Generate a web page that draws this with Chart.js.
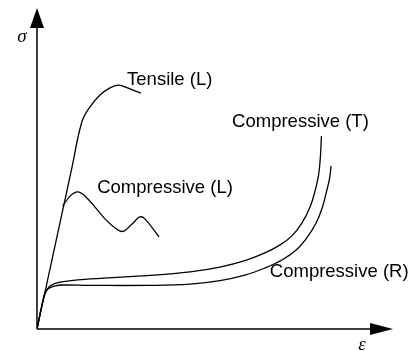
<!DOCTYPE html>
<html>
<head>
<meta charset="utf-8">
<script src="https://cdn.jsdelivr.net/npm/chart.js@4"></script>
<style>
html,body{margin:0;padding:0;background:#fff;}
#wrap{width:411px;height:351px;}
</style>
</head>
<body>
<div id="wrap"><canvas id="c" width="411" height="351"></canvas></div>
<script>
// Schematic stress-strain curves (arbitrary units, 0-100 on each axis)
const tensileL_x = [0, 9.8, 12.6, 14.9, 17.7, 20.5, 22.8, 24.7, 29.2];
const tensileL_y = [0, 50.2, 64.5, 69.2, 72.9, 75.1, 76.0, 75.4, 73.5];

const compL_x = [7.2, 9.3, 11.5, 14.3, 19.1, 22.8, 24.4, 26.7, 28.9, 30.3, 34.3];
const compL_y = [38.3, 41.4, 42.7, 40.5, 34.3, 30.8, 30.5, 32.7, 34.9, 34.3, 28.7];

const compT_x = [0, 1.4, 2.25, 3.65, 6.46, 14.9, 31.7, 43.0, 51.4, 58.4, 64.0, 68.3, 71.6, 74.4, 76.7, 78.1, 79.1, 79.6, 79.9];
const compT_y = [0, 7.5, 11.2, 13.4, 14.6, 15.6, 16.7, 17.8, 19.3, 21.3, 23.7, 26.2, 29.0, 33.0, 38.0, 43.0, 48.0, 53.6, 60.1];

const compR_x = [0, 1.4, 2.25, 3.1, 5.1, 7.3, 14.9, 31.7, 43.0, 51.4, 58.4, 64.0, 68.8, 72.8, 75.8, 78.4, 80.1, 81.3, 82.2, 82.6];
const compR_y = [0, 7.5, 10.9, 12.5, 13.4, 13.7, 13.6, 13.6, 14.0, 15.1, 16.8, 19.0, 21.5, 24.6, 28.4, 33.0, 37.7, 42.7, 47.0, 50.8];

const axisLabelX = 'ε';
const axisLabelY = 'σ';
const curveLabels = ['Tensile (L)', 'Compressive (L)', 'Compressive (T)', 'Compressive (R)'];

function pts(xs, ys){ return xs.map((x,i)=>({x:x, y:ys[i]})); }

const lineStyle = {
  showLine: true, pointRadius: 0, borderColor: '#000', borderWidth: 1.3,
  backgroundColor: '#000', fill: false, tension: 0.4
};

const decor = {
  id: 'decor',
  afterDatasetsDraw(chart){
    const ctx = chart.ctx, xs = chart.scales.x, ys = chart.scales.y;
    const x0 = xs.getPixelForValue(0), y0 = ys.getPixelForValue(0);
    const xEnd = xs.getPixelForValue(100), yEnd = ys.getPixelForValue(100);
    ctx.save();
    ctx.strokeStyle = '#000'; ctx.fillStyle = '#000'; ctx.lineWidth = 1.5;
    // x axis
    ctx.beginPath(); ctx.moveTo(x0, y0); ctx.lineTo(xEnd - 20, y0); ctx.stroke();
    ctx.beginPath(); ctx.moveTo(xEnd, y0); ctx.lineTo(xEnd - 23, y0 - 6); ctx.lineTo(xEnd - 23, y0 + 6); ctx.closePath(); ctx.fill();
    // y axis
    ctx.beginPath(); ctx.moveTo(x0, y0); ctx.lineTo(x0, yEnd + 18); ctx.stroke();
    ctx.beginPath(); ctx.moveTo(x0, yEnd); ctx.lineTo(x0 - 7, yEnd + 20); ctx.lineTo(x0 + 7, yEnd + 20); ctx.closePath(); ctx.fill();
    // axis symbols
    ctx.font = 'italic 19px "Liberation Serif", "DejaVu Serif", serif';
    ctx.textAlign = 'center'; ctx.textBaseline = 'alphabetic';
    ctx.fillText(axisLabelY, x0 - 15, yEnd + 34);
    ctx.fillText(axisLabelX, xEnd - 31, y0 + 21);
    // curve labels
    ctx.font = '18.5px "Liberation Sans", Arial, sans-serif';
    ctx.textAlign = 'left';
    const pos = [[25.3, 75.9], [16.9, 42.4], [54.8, 62.9], [65.4, 16.2]];
    curveLabels.forEach((t,i)=>{
      ctx.fillText(t, xs.getPixelForValue(pos[i][0]), ys.getPixelForValue(pos[i][1]));
    });
    ctx.restore();
  }
};

new Chart(document.getElementById('c'), {
  type: 'scatter',
  data: {
    datasets: [
      Object.assign({label: curveLabels[0], data: pts(tensileL_x, tensileL_y)}, lineStyle),
      Object.assign({label: curveLabels[1], data: pts(compL_x, compL_y)}, lineStyle),
      Object.assign({label: curveLabels[2], data: pts(compT_x, compT_y)}, lineStyle),
      Object.assign({label: curveLabels[3], data: pts(compR_x, compR_y)}, lineStyle)
    ]
  },
  options: {
    responsive: false,
    animation: false,
    layout: { padding: { left: 37, right: 18, top: 8, bottom: 22 } },
    plugins: { legend: { display: false }, tooltip: { enabled: false } },
    scales: {
      x: { type: 'linear', min: 0, max: 100, display: false },
      y: { type: 'linear', min: 0, max: 100, display: false }
    }
  },
  plugins: [decor]
});
</script>
</body>
</html>
